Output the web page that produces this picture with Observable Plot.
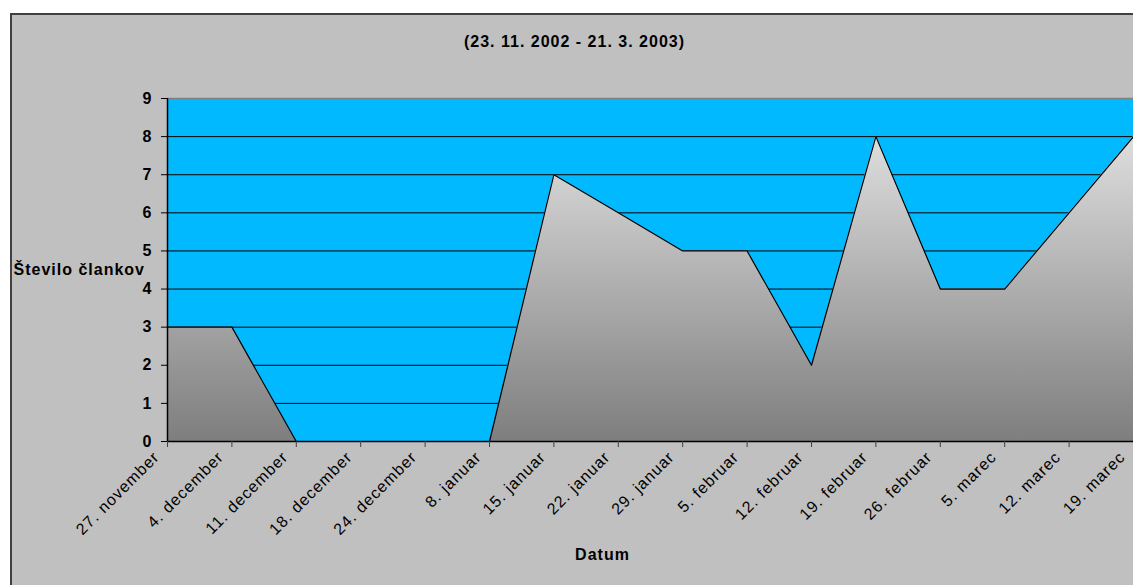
<!DOCTYPE html>
<html>
<head>
<meta charset="utf-8">
<script src="https://cdn.jsdelivr.net/npm/d3@7"></script>
<script src="https://cdn.jsdelivr.net/npm/@observablehq/plot@0.6"></script>
<style>
  html, body { margin: 0; padding: 0; background: #ffffff; }
  #panel {
    position: absolute; left: 10px; top: 13px; width: 1123px; height: 572px;
    background: #c0c0c0; border-left: 2px solid #404040; border-top: 2px solid #404040;
    box-sizing: border-box;
  }
  #chart { position: absolute; left: 0; top: 0; }
</style>
</head>
<body>
<div id="panel"></div>
<div id="chart"></div>
<script>
// Weekly count of articles, 23. 11. 2002 - 21. 3. 2003
const dates = [
  "27. november", "4. december", "11. december", "18. december", "24. december",
  "8. januar", "15. januar", "22. januar", "29. januar", "5. februar",
  "12. februar", "19. februar", "26. februar", "5. marec", "12. marec", "19. marec"
];
const counts = [3, 3, 0, 0, 0, 0, 7, 6, 5, 5, 2, 8, 4, 4, 6, 8];
const yTicks = [0, 1, 2, 3, 4, 5, 6, 7, 8, 9];

const titleText = "(23. 11. 2002 - 21. 3. 2003)";
const yLabel = "Število člankov";
const xLabel = "Datum";

const rows = dates.map((d, i) => ({date: d, count: counts[i]}));

// grey vertical gradient used for the filled area
const shadeDefs = () => {
  const defs = d3.create("svg:defs");
  const g = defs.append("linearGradient")
    .attr("id", "areaShade")
    .attr("x1", 0).attr("y1", 0).attr("x2", 0).attr("y2", 1);
  g.append("stop").attr("offset", "0%").attr("stop-color", "#dedede");
  g.append("stop").attr("offset", "100%").attr("stop-color", "#7e7e7e");
  return defs.node();
};

const chart = Plot.plot({
  width: 1133,
  height: 585,
  marginLeft: 167,
  marginRight: 0,
  marginTop: 98,
  marginBottom: 144,
  style: {
    background: "transparent",
    fontFamily: "'Liberation Sans', Arial, sans-serif",
    letterSpacing: "1px",
    color: "black"
  },
  x: {type: "point", domain: dates, padding: 0, round: false},
  y: {domain: [0, 9]},
  marks: [
    shadeDefs,
    Plot.frame({fill: "#00b9ff", stroke: null}),
    Plot.gridY(yTicks, {stroke: "black", strokeOpacity: 1, strokeWidth: 1}),
    Plot.areaY(rows, {x: "date", y: "count", fill: "url(#areaShade)"}),
    Plot.lineY(rows, {x: "date", y: "count", stroke: "black", strokeWidth: 1.2}),
    Plot.ruleY([9], {stroke: "#808080", strokeWidth: 1.5}),
    Plot.ruleY([0], {stroke: "black", strokeWidth: 1.5}),
    Plot.ruleX([dates[0]], {stroke: "black", strokeWidth: 1.5}),
    Plot.axisY({
      ticks: yTicks, tickSize: 6, tickPadding: 9, label: null,
      fontSize: 16, fontWeight: "bold", stroke: "black"
    }),
    // tick marks under each date
    Plot.axisX({text: null, tickSize: 6, label: null, stroke: "#404040"}),
    // rotated date labels, ending just left of their tick
    Plot.axisX({
      tickRotate: -45, tickSize: 0, tickPadding: 13, label: null,
      fontSize: 16, dx: -11
    }),
    Plot.text([titleText], {
      text: d => d, frameAnchor: "top", dx: -76, dy: -63,
      fontSize: 16, fontWeight: "bold"
    }),
    Plot.text([yLabel], {
      text: d => d, frameAnchor: "left", textAnchor: "start", dx: -154,
      fontSize: 16, fontWeight: "bold"
    }),
    Plot.text([xLabel], {
      text: d => d, frameAnchor: "bottom", dx: -48, dy: 118,
      fontSize: 16, fontWeight: "bold"
    })
  ]
});

document.getElementById("chart").appendChild(chart);
</script>
</body>
</html>
